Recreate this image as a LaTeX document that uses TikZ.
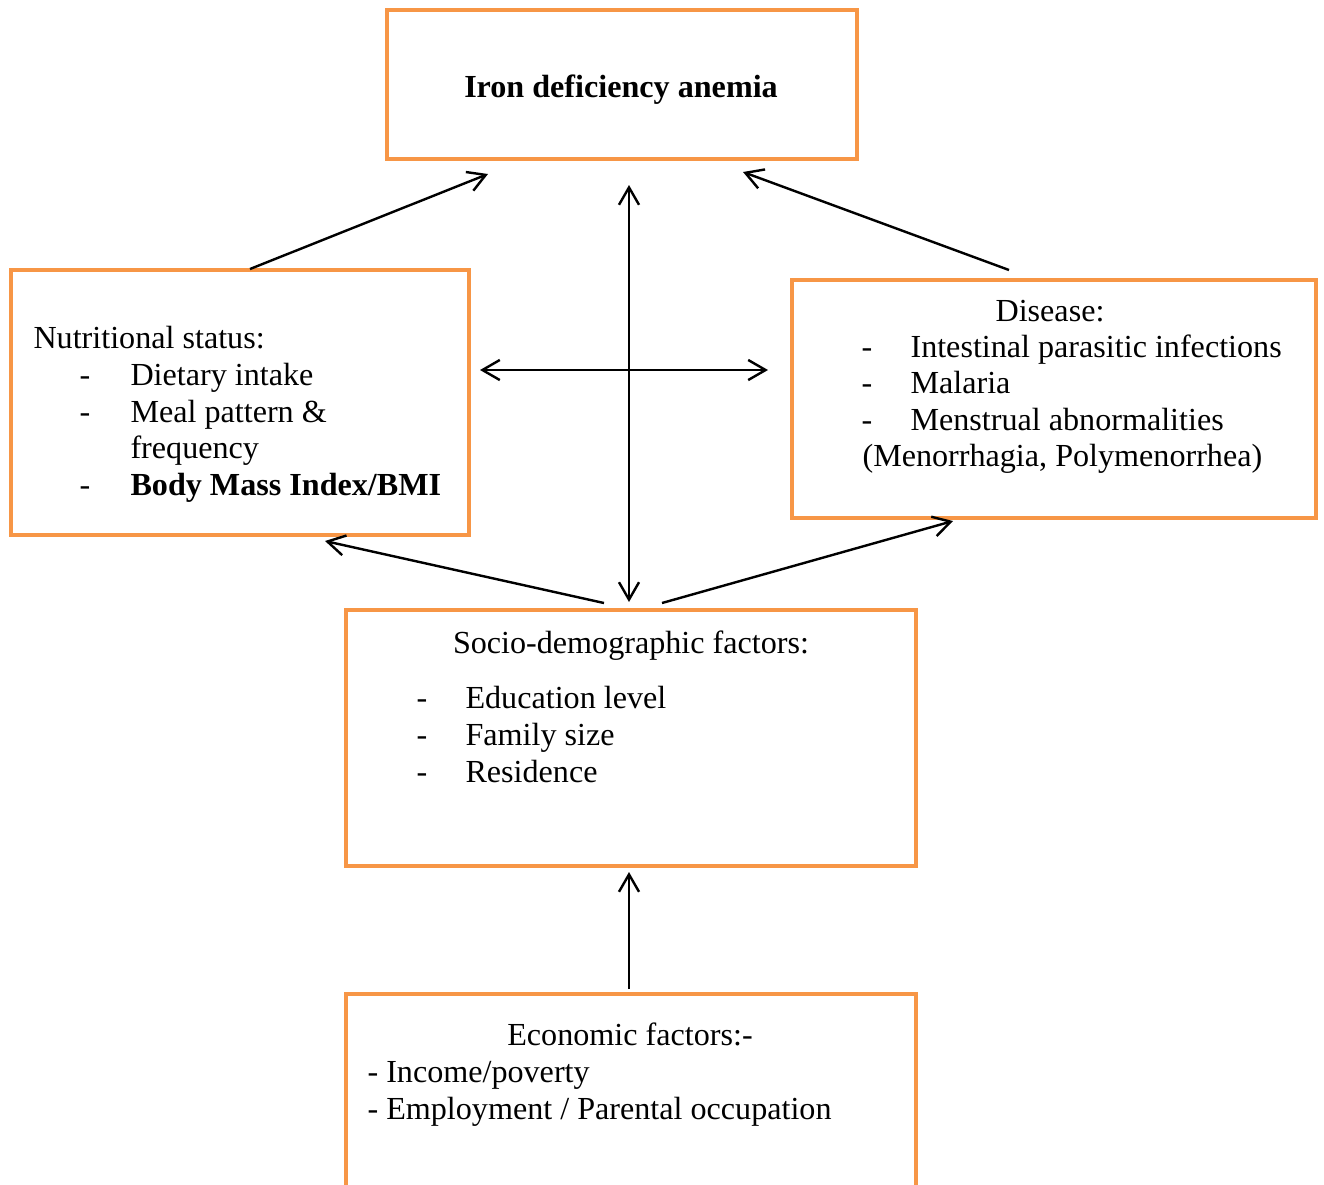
\documentclass[tikz,border=0pt]{standalone}
\usepackage{fontspec}
\setmainfont{Liberation Serif}
\usetikzlibrary{arrows.meta,fit}
\definecolor{boxorange}{RGB}{247,150,70}
\newcommand{\boxfont}{\fontsize{12}{13.8}\selectfont}
\tikzset{
  factorbox/.style={draw=boxorange, line width=1.5pt, inner sep=0pt, rectangle},
  txt/.style={anchor=base west, inner sep=0pt},
  ctxt/.style={anchor=base, inner sep=0pt},
  boldtxt/.style={font=\boxfont\bfseries},
  link/.style={-{Straight Barb[length=6.5pt,width=7.5pt]}, line width=0.9pt},
  twolink/.style={{Straight Barb[length=6.5pt,width=7.5pt]}-{Straight Barb[length=6.5pt,width=7.5pt]}, line width=0.9pt}
}
\begin{document}
\begin{tikzpicture}[x=0.3735pt, y=-0.3735pt, font=\boxfont]
    \useasboundingbox (0,0) rectangle (1324,1184);

    \node [factorbox, fit={(387,10) (857,159)}] (anemia) {};
    \node [ctxt, boldtxt] (anemiatitle) at (621,97) {Iron deficiency anemia};

    \node [factorbox, fit={(11,270) (469,535)}] (nutrition) {};
    \node [txt] (nutritiontitle) at (33,348) {Nutritional status:};
    \node [txt] (nutdash1) at (79,385) {-};
    \node [txt] (nutdash2) at (79,422) {-};
    \node [txt] (nutdash3) at (79,495) {-};
    \node [txt] (nutitem1) at (130,385) {Dietary intake};
    \node [txt] (nutitem2) at (130,422) {Meal pattern \&};
    \node [txt] (nutitem2b) at (130,458) {frequency};
    \node [txt, boldtxt] (nutitem3) at (130,495) {Body Mass Index/BMI};

    \node [factorbox, fit={(792,280) (1316,518)}] (disease) {};
    \node [ctxt] (diseasetitle) at (1050,321) {Disease:};
    \node [txt] (disdash1) at (861,357) {-};
    \node [txt] (disdash2) at (861,393) {-};
    \node [txt] (disdash3) at (861,430) {-};
    \node [txt] (disitem1) at (910,357) {Intestinal parasitic infections};
    \node [txt] (disitem2) at (910,393) {Malaria};
    \node [txt] (disitem3) at (910,430) {Menstrual abnormalities};
    \node [txt] (disitem3b) at (862,466) {(Menorrhagia, Polymenorrhea)};

    \node [factorbox, fit={(346,610) (916,866)}] (socio) {};
    \node [ctxt] (sociotitle) at (631,653) {Socio-demographic factors:};
    \node [txt] (socdash1) at (416,708) {-};
    \node [txt] (socdash2) at (416,745) {-};
    \node [txt] (socdash3) at (416,782) {-};
    \node [txt] (socitem1) at (465,708) {Education level};
    \node [txt] (socitem2) at (465,745) {Family size};
    \node [txt] (socitem3) at (465,782) {Residence};

    \node [factorbox, fit={(346,994) (916,1205)}] (economic) {};
    \node [ctxt] (economictitle) at (630,1045) {Economic factors:-};
    \node [txt] (ecoitem1) at (367,1082) {- Income/poverty};
    \node [txt] (ecoitem2) at (367,1119) {- Employment / Parental occupation};

    \coordinate (nutout) at (250,269);
    \coordinate (nutin) at (325,541);
    \coordinate (disout) at (1009,270);
    \coordinate (disin) at (953,521);
    \coordinate (anemiainl) at (488,174);
    \coordinate (anemiainr) at (743,172);
    \coordinate (anemiainc) at (629,185);
    \coordinate (socioinc) at (629,602);
    \coordinate (socioutl) at (604,603);
    \coordinate (socioutr) at (662,603);
    \coordinate (socioin) at (629,872);
    \coordinate (ecoout) at (629,989);
    \coordinate (crossl) at (480,370);
    \coordinate (crossr) at (768,370);

    \draw [link] (nutout) -- (anemiainl);
    \draw [link] (disout) -- (anemiainr);
    \draw [twolink] (anemiainc) -- (socioinc);
    \draw [twolink] (crossl) -- (crossr);
    \draw [link] (socioutl) -- (nutin);
    \draw [link] (socioutr) -- (disin);
    \draw [link] (ecoout) -- (socioin);
  \end{tikzpicture}
\end{document}
